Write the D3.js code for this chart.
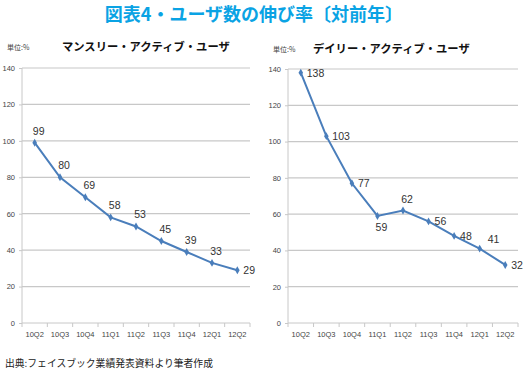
<!DOCTYPE html>
<html><head><meta charset="utf-8">
<script src="https://cdn.jsdelivr.net/npm/d3@7"></script>
<style>
body{margin:0;background:#fff;}
text{font-family:"Noto Sans CJK JP","Noto Sans",sans-serif;}
</style></head>
<body><svg id="c" width="523" height="370"></svg>
<script>
const categories = ["10Q2","10Q3","10Q4","11Q1","11Q2","11Q3","11Q4","12Q1","12Q2"];
const monthlyValues = [99,80,69,58,53,45,39,33,29];
const dailyValues = [138,103,77,59,62,56,48,41,32];
const yTicks = [0,20,40,60,80,100,120,140];
const monthlyLabelPos = ["above","above","above","above","above","above","above","above","right"];
const dailyLabelPos = ["right","right","right","below","above","right","right","aboveRight","right"];

const svg = d3.select("#c");
const blue = "#4a7ebb";

svg.append("text").attr("x",254).attr("y",21).attr("text-anchor","middle")
  .attr("font-size",18).attr("font-weight","bold").attr("fill","#0aa3e4")
  .text("図表4・ユーザ数の伸び率〔対前年〕");

svg.append("text").attr("x",5).attr("y",367).attr("font-size",9.8).attr("fill","#222")
  .text("出典:フェイスブック業績発表資料より筆者作成");

function panel(x0, x1, yTop, yBot, values, title, unitX, titleX, titleY, labelPos){
  const g = svg.append("g");
  const x = d3.scaleBand().domain(categories).range([x0,x1]);
  const y = d3.scaleLinear().domain([0,140]).range([yBot,yTop]);
  g.append("text").attr("x",unitX).attr("y",titleY).attr("font-size",7).attr("fill","#444").text("単位:%");
  g.append("text").attr("x",titleX).attr("y",titleY+1).attr("font-size",11.3).attr("font-weight","bold").attr("fill","#111").text(title);
  g.selectAll(".grid").data(yTicks.filter(d=>d>0)).enter().append("line")
    .attr("x1",x0).attr("x2",x1).attr("y1",d=>y(d)).attr("y2",d=>y(d))
    .attr("stroke","#c8c8c8").attr("stroke-width",1.2);
  const ya = d3.axisLeft(y).tickValues(yTicks).tickSize(3).tickPadding(4);
  const yg = g.append("g").attr("transform",`translate(${x0},0)`).call(ya);
  yg.select(".domain").attr("stroke","#c8c8c8").attr("d",`M0,${yTop}V${yBot}`);
  yg.selectAll(".tick line").attr("stroke","#c8c8c8");
  yg.selectAll("text").attr("font-size",7.5).attr("fill","#444").style("font-family","'Liberation Sans',sans-serif");
  const xa = d3.axisBottom(x).tickSize(0).tickPadding(9);
  const xg = g.append("g").attr("transform",`translate(0,${yBot})`).call(xa);
  xg.select(".domain").attr("stroke","#c8c8c8").attr("d",`M${x0},0H${x1}`);
  xg.selectAll("text").attr("font-size",7.5).attr("fill","#444").style("font-family","'Liberation Sans',sans-serif");
  const bw = x.bandwidth();
  g.selectAll(".xt").data(d3.range(categories.length+1)).enter().append("line")
    .attr("x1",i=>x0+i*bw).attr("x2",i=>x0+i*bw).attr("y1",yBot).attr("y2",yBot+4)
    .attr("stroke","#c8c8c8");
  const cx = d => x(d)+bw/2;
  const line = d3.line().x((d,i)=>cx(categories[i])).y(d=>y(d));
  g.append("path").datum(values).attr("d",line).attr("fill","none").attr("stroke",blue).attr("stroke-width",2);
  g.selectAll(".m").data(values).enter().append("path")
    .attr("transform",(d,i)=>`translate(${cx(categories[i])},${y(d)})`)
    .attr("d",d3.symbol(d3.symbolDiamond,18)).attr("fill",blue);
  g.selectAll(".lb").data(values).enter().append("text")
    .attr("font-size",10.5).attr("fill","#333").style("font-family","'Liberation Sans',sans-serif")
    .attr("x",(d,i)=>{const p=labelPos[i];const c=cx(categories[i]);
       if(p==="right") return c+6; if(p==="aboveRight") return c+8; return c+4;})
    .attr("y",(d,i)=>{const p=labelPos[i];const v=y(d);
       if(p==="right") return v+4; if(p==="below") return v+15; if(p==="aboveRight") return v-6; return v-8;})
    .attr("text-anchor",(d,i)=>["right","aboveRight"].includes(labelPos[i])?"start":"middle")
    .text(d=>d);
}
panel(22,250,68,323,monthlyValues,"マンスリー・アクティブ・ユーザ",7,62,50,monthlyLabelPos);
panel(288,518,69,323,dailyValues,"デイリー・アクティブ・ユーザ",273,313,52,dailyLabelPos);
</script></body></html>
